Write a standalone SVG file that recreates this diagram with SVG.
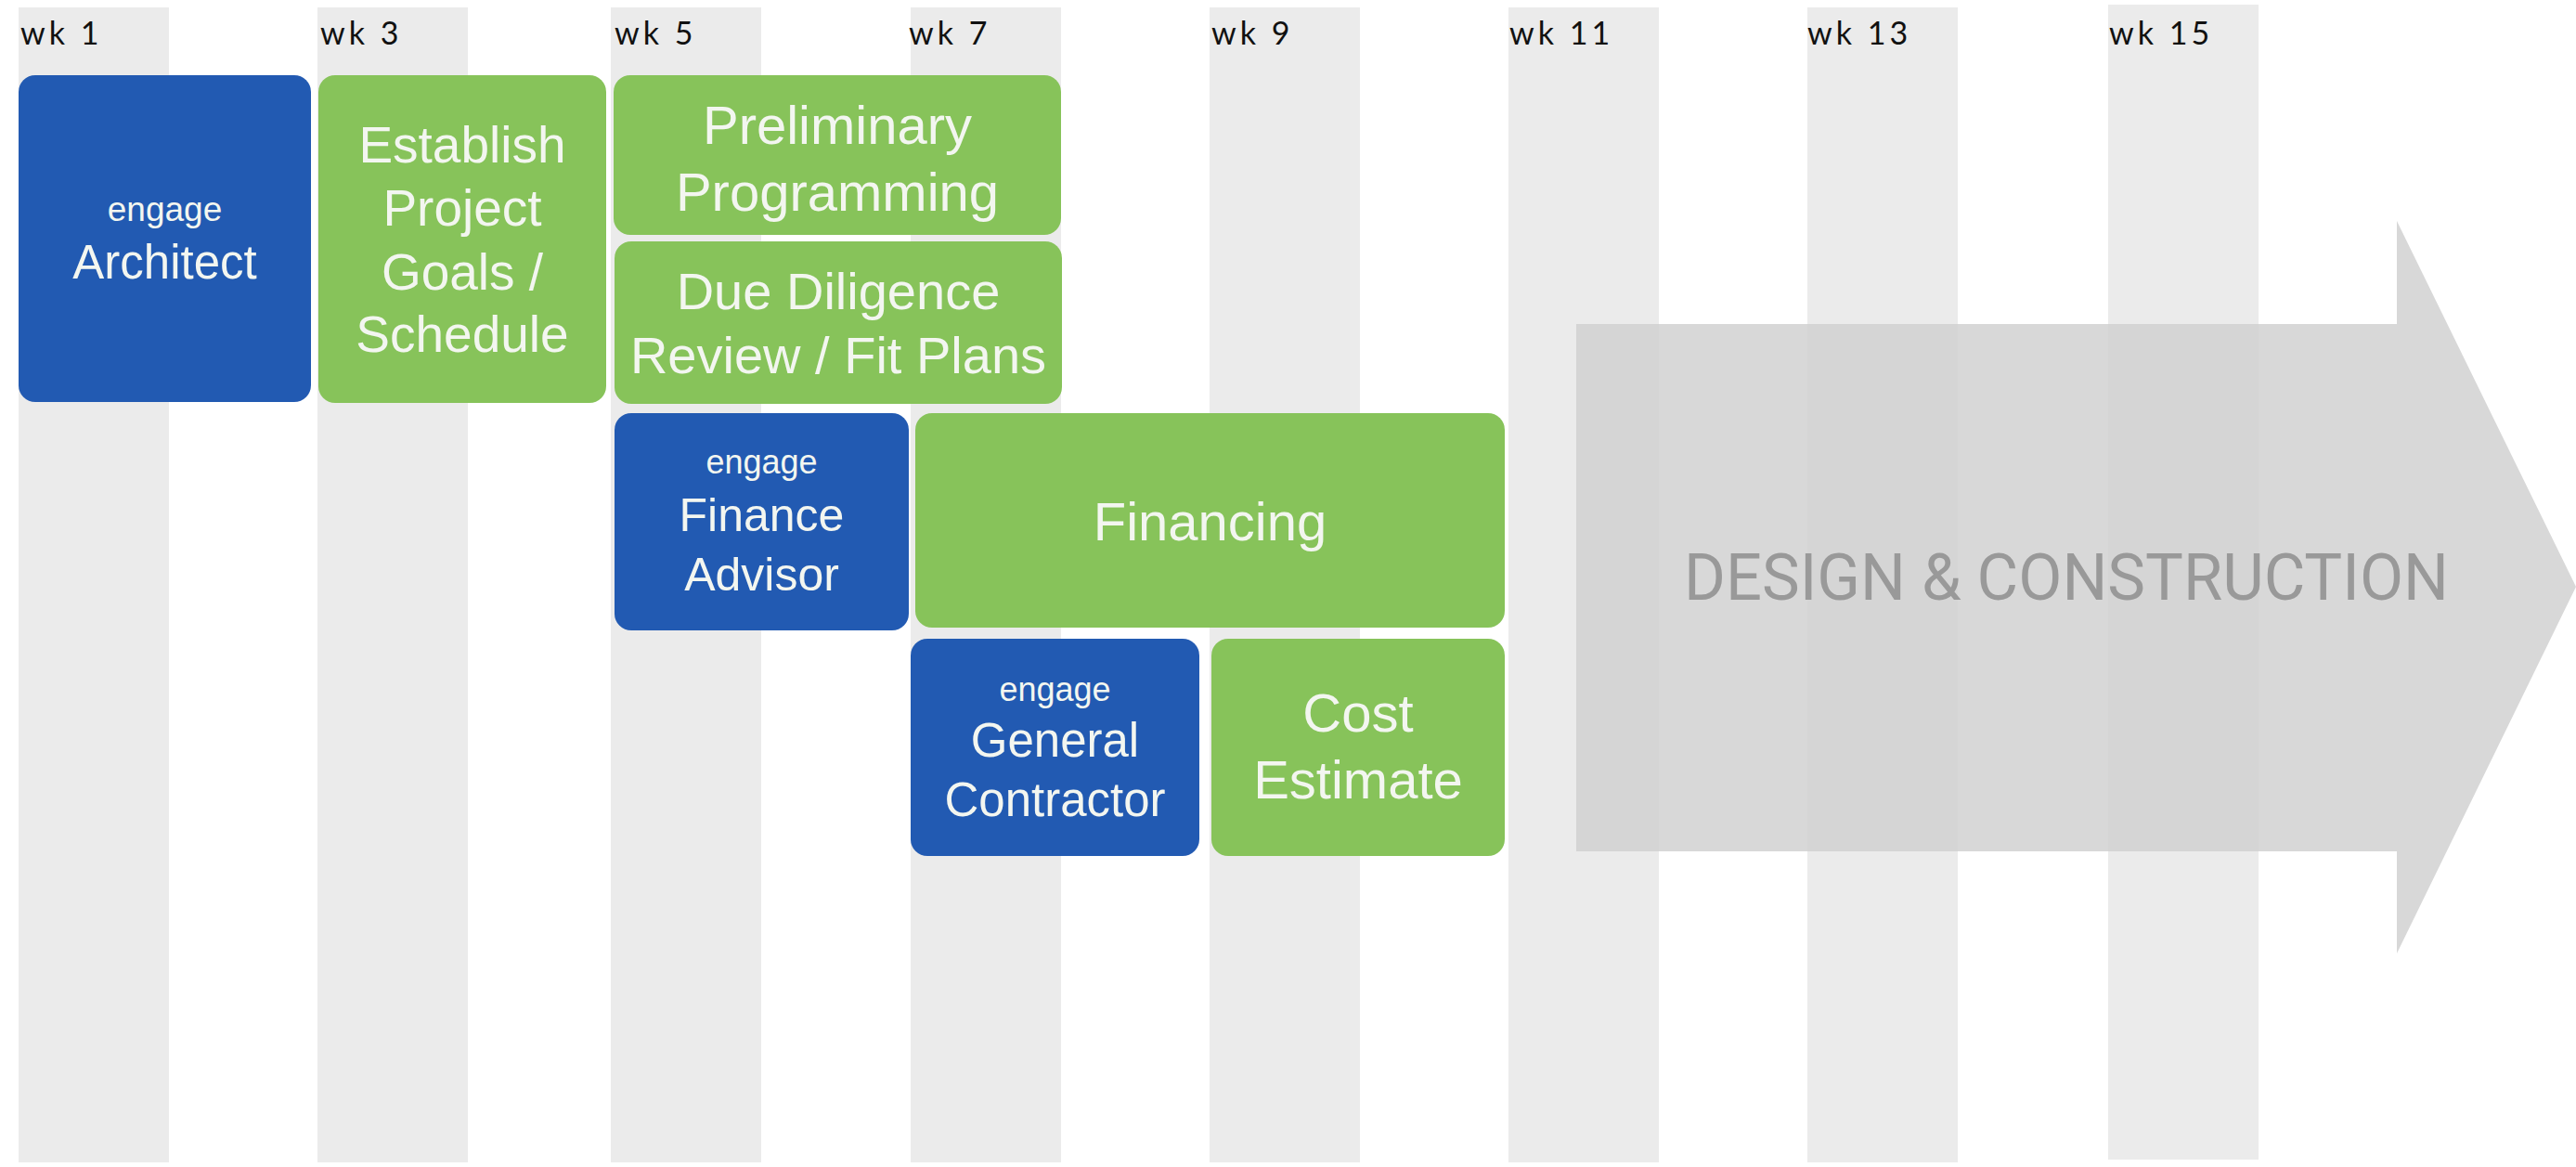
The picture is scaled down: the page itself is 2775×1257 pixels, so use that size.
<svg xmlns="http://www.w3.org/2000/svg" width="2775" height="1257" viewBox="0 0 2775 1257">
  <style>
    .col { fill: #ebebeb; }
    .wk { font-family: Lato, "Open Sans", "DejaVu Sans", sans-serif; font-weight: 400; font-size: 34px; letter-spacing: 4px; fill: #111111; }
    .blue { fill: #1b55b0; fill-opacity: 0.97; }
    .green { fill: #83c155; fill-opacity: 0.97; }
    .lbl { font-family: "Liberation Sans", Arial, sans-serif; fill: #f3f6f0; text-anchor: middle; }
    .arrow { fill: #d1d1d1; fill-opacity: 0.85; }
    .big { font-family: Roboto, "DejaVu Sans", sans-serif; font-size: 70px; fill: #999999; }
  </style>

  <rect width="2775" height="1257" fill="#ffffff"/>

  <!-- week columns -->
  <g id="columns">
    <rect class="col" x="20" y="8" width="162" height="1244"/>
    <rect class="col" x="342" y="8" width="162" height="1244"/>
    <rect class="col" x="658" y="8" width="162" height="1244"/>
    <rect class="col" x="981" y="8" width="162" height="1244"/>
    <rect class="col" x="1303" y="8" width="162" height="1244"/>
    <rect class="col" x="1625" y="8" width="162" height="1244"/>
    <rect class="col" x="1947" y="8" width="162" height="1244"/>
    <rect class="col" x="2271" y="5" width="162" height="1244"/>
  </g>

  <g id="week-labels">
    <text class="wk" x="22" y="48">wk 1</text>
    <text class="wk" x="345" y="48">wk 3</text>
    <text class="wk" x="662" y="48">wk 5</text>
    <text class="wk" x="979" y="48">wk 7</text>
    <text class="wk" x="1305" y="48">wk 9</text>
    <text class="wk" x="1626" y="48">wk 11</text>
    <text class="wk" x="1947" y="48">wk 13</text>
    <text class="wk" x="2272" y="48">wk 15</text>
  </g>

  <!-- design & construction arrow -->
  <g id="design-construction">
    <polygon class="arrow" points="1698,349 2582,349 2582,238 2775,632 2582,1027 2582,917 1698,917"/>
    <text class="big" x="1814" y="646" textLength="824" lengthAdjust="spacingAndGlyphs">DESIGN &amp; CONSTRUCTION</text>
  </g>

  <g id="engage-architect">
    <rect class="blue" x="20" y="81" width="315" height="352" rx="18"/>
    <text class="lbl" x="177.5" y="238" font-size="37">engage</text>
    <text class="lbl" x="177.5" y="300" font-size="51">Architect</text>
  </g>

  <g id="establish-goals">
    <rect class="green" x="343" y="81" width="310" height="353" rx="18"/>
    <text class="lbl" x="498" y="175" font-size="55">Establish</text>
    <text class="lbl" x="498" y="243" font-size="55">Project</text>
    <text class="lbl" x="498" y="312" font-size="55">Goals /</text>
    <text class="lbl" x="498" y="379" font-size="55">Schedule</text>
  </g>

  <g id="preliminary-programming">
    <rect class="green" x="661" y="81" width="482" height="172" rx="18"/>
    <text class="lbl" x="902" y="155" font-size="58">Preliminary</text>
    <text class="lbl" x="902" y="227" font-size="58">Programming</text>
  </g>

  <g id="due-diligence">
    <rect class="green" x="662" y="260" width="482" height="175" rx="18"/>
    <text class="lbl" x="903" y="333" font-size="56">Due Diligence</text>
    <text class="lbl" x="903" y="402" font-size="56">Review / Fit Plans</text>
  </g>

  <g id="engage-finance-advisor">
    <rect class="blue" x="662" y="445" width="317" height="234" rx="18"/>
    <text class="lbl" x="820.5" y="510" font-size="36">engage</text>
    <text class="lbl" x="820.5" y="572" font-size="50">Finance</text>
    <text class="lbl" x="820.5" y="636" font-size="50">Advisor</text>
  </g>

  <g id="financing">
    <rect class="green" x="986" y="445" width="635" height="231" rx="18"/>
    <text class="lbl" x="1303.5" y="582" font-size="58">Financing</text>
  </g>

  <g id="engage-general-contractor">
    <rect class="blue" x="981" y="688" width="311" height="234" rx="18"/>
    <text class="lbl" x="1136.5" y="755" font-size="36">engage</text>
    <text class="lbl" x="1136.5" y="815" font-size="51">General</text>
    <text class="lbl" x="1136.5" y="879" font-size="51">Contractor</text>
  </g>

  <g id="cost-estimate">
    <rect class="green" x="1305" y="688" width="316" height="234" rx="18"/>
    <text class="lbl" x="1463" y="788" font-size="58">Cost</text>
    <text class="lbl" x="1463" y="860" font-size="58">Estimate</text>
  </g>

  <!-- this chart has no connectors -->
  <g id="connectors"/>
</svg>
